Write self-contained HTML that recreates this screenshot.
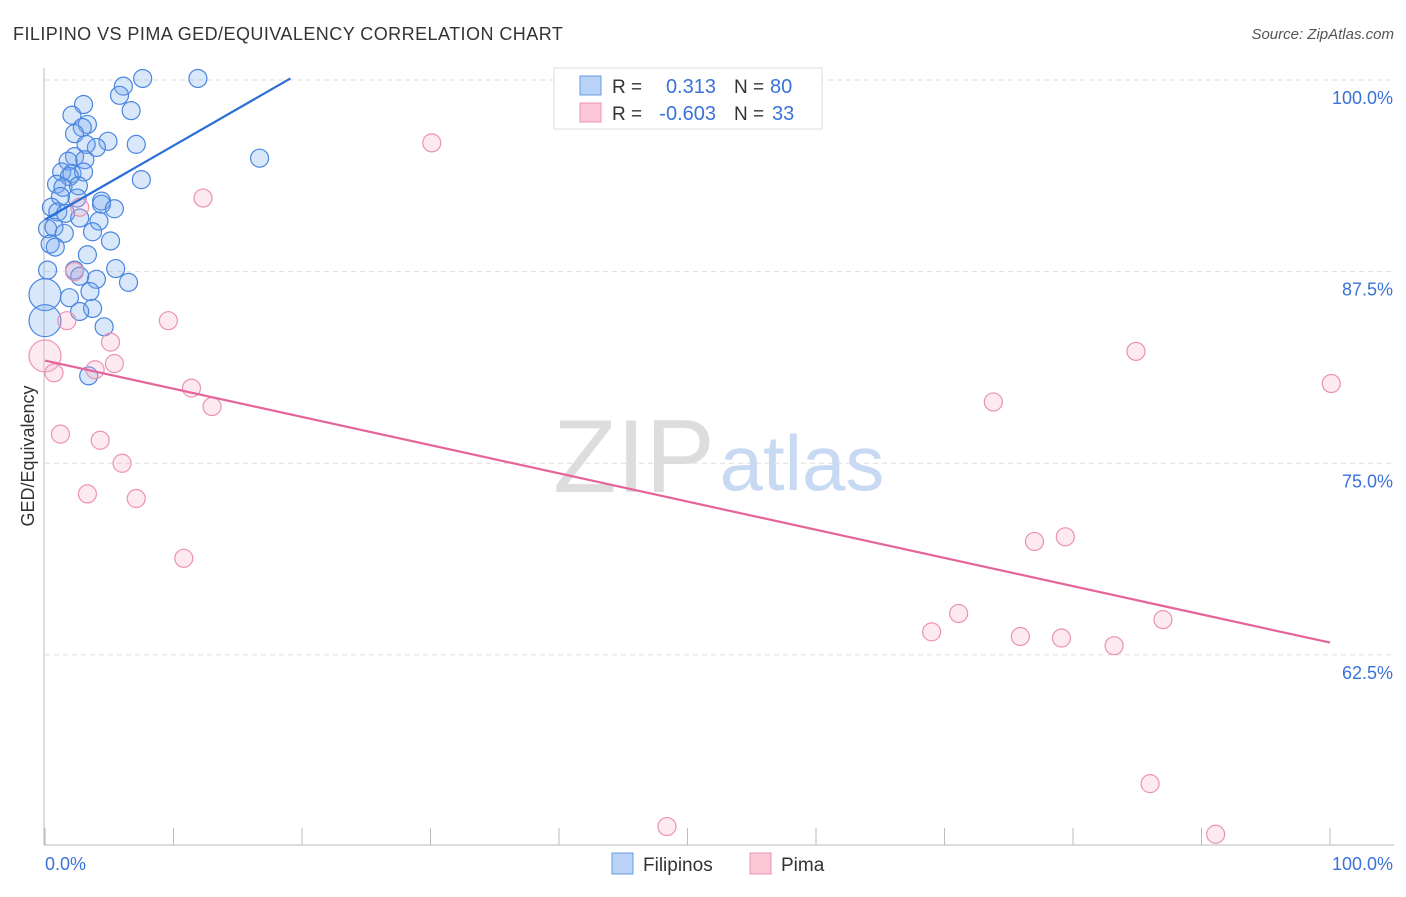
<!DOCTYPE html>
<html><head><meta charset="utf-8"><style>
body{margin:0;background:#fff;font-family:"Liberation Sans",sans-serif;}
svg text{font-family:"Liberation Sans",sans-serif;}
</style></head><body>
<svg width="1406" height="892" xmlns="http://www.w3.org/2000/svg">
<text x="13" y="40" font-size="18" fill="#333" letter-spacing="0.45">FILIPINO VS PIMA GED/EQUIVALENCY CORRELATION CHART</text>
<text x="1394" y="39" font-size="15" fill="#555" font-style="italic" text-anchor="end">Source: ZipAtlas.com</text>
<g>
<text x="634" y="492" font-size="104" fill="#ddd" text-anchor="middle" font-family="Liberation Serif">ZIP</text>
<text x="802" y="490" font-size="78" fill="#c8daf3" text-anchor="middle">atlas</text>
</g>
<g id="grid"></g>
<g id="axes"></g>
<g id="pts"></g>
<g id="lines"></g>
<text transform="translate(34,456) rotate(-90)" font-size="18" fill="#333" text-anchor="middle">GED/Equivalency</text>
<text x="45" y="870" font-size="18" fill="#3a72d8">0.0%</text>
<text x="1393" y="870" font-size="18" fill="#3a72d8" text-anchor="end">100.0%</text>
<g>
<rect x="554" y="68" width="268" height="61" fill="#fff" stroke="#ddd"/>
<rect x="580" y="76" width="21" height="19" fill="#b8d3f5" stroke="#6a9be0"/>
<rect x="580" y="103" width="21" height="19" fill="#fcc8d8" stroke="#ea93b0"/>
<text x="612" y="93" font-size="19" fill="#333">R = </text><text x="716" y="93" font-size="20" fill="#3a72d8" text-anchor="end">0.313</text>
<text x="734" y="93" font-size="19" fill="#333">N = </text><text x="770" y="93" font-size="20" fill="#3a72d8">80</text>
<text x="612" y="120" font-size="19" fill="#333">R = </text><text x="716" y="120" font-size="20" fill="#3a72d8" text-anchor="end">-0.603</text>
<text x="734" y="120" font-size="19" fill="#333">N = </text><text x="772" y="120" font-size="20" fill="#3a72d8">33</text>
</g>
<g>
<rect x="612" y="853" width="21" height="21" fill="#b8d3f5" stroke="#6a9be0"/>
<text x="643" y="871" font-size="19" fill="#333">Filipinos</text>
<rect x="750" y="853" width="21" height="21" fill="#fcc8d8" stroke="#ea93b0"/>
<text x="781" y="871" font-size="19" fill="#333">Pima</text>
</g>
</svg>
<script>
const yTicks=[100,87.5,75,62.5];
const yTickLabels=["100.0%","87.5%","75.0%","62.5%"];
const xTicks=[0,10,20,30,40,50,60,70,80,90,100];
const blueX=[7.6,11.9,6.1,5.8,6.7,3.0,2.1,3.3,2.9,2.3,4.9,7.1,4.0,3.2,2.3,1.8,3.1,16.7,7.5,1.3,2.1,3.0,1.9,0.9,1.4,2.6,1.2,2.5,4.4,4.4,5.4,0.5,1.0,0.2,1.6,2.7,4.2,3.7,0.7,1.5,0.4,5.1,0.8,3.3,0.2,5.5,2.3,4.0,6.5,2.7,0,1.9,3.5,3.7,2.7,4.6,0,3.4];
const blueY=[100.1,100.1,99.6,99.0,98.0,98.4,97.7,97.1,96.9,96.5,96.0,95.8,95.6,95.8,95.0,94.7,94.8,94.9,93.5,94.0,93.9,94.0,93.7,93.2,93.0,93.1,92.4,92.3,92.1,91.9,91.6,91.7,91.4,90.3,91.3,91.0,90.8,90.1,90.4,90.0,89.3,89.5,89.1,88.6,87.6,87.7,87.6,87.0,86.8,87.2,86.0,85.8,86.2,85.1,84.9,83.9,84.3,80.7];
const blueBig=[50,56];
const pinkX=[30.1,12.3,2.7,2.3,1.7,9.6,5.1,0,5.4,0.7,3.9,11.4,13.0,1.2,4.3,6.0,3.3,7.1,10.8,84.9,100.1,73.8,77.0,79.4,71.1,69.0,75.9,79.1,83.2,87.0,86.0,48.4,91.1];
const pinkY=[95.9,92.3,91.7,87.5,84.3,84.3,82.9,82.0,81.5,80.9,81.1,79.9,78.7,76.9,76.5,75.0,73.0,72.7,68.8,82.3,80.2,79.0,69.9,70.2,65.2,64.0,63.7,63.6,63.1,64.8,54.1,51.3,50.8];
const pinkBig=[7];
const blueTrend=[90.9,100.1], blueTrendX=[0,19.1];
const pinkTrend=[81.7,63.3], pinkTrendX=[0,100];
const NS="http://www.w3.org/2000/svg";
const xs=v=>45+v*12.85;
const ys=v=>80+(100-v)*15.33;
function mk(t,a,p){const e=document.createElementNS(NS,t);for(const k in a)e.setAttribute(k,a[k]);p.appendChild(e);return e;}
const grid=document.getElementById('grid');
yTicks.forEach((t,i)=>{
 const l=mk('line',{x1:45,x2:1394,y1:ys(t),y2:ys(t),stroke:'#ddd','stroke-dasharray':'5,4'},grid);
 
 
 const tx=mk('text',{x:1393,y:ys(t)+24,'font-size':18,fill:'#3a72d8','text-anchor':'end'},grid);
 tx.textContent=yTickLabels[i];
 
 
});
const axes=document.getElementById('axes');
mk('line',{x1:44,x2:44,y1:68,y2:845,stroke:'#bbb'},axes);
mk('line',{x1:44,x2:1394,y1:845,y2:845,stroke:'#bbb'},axes);
xTicks.forEach(t=>{
 const l=mk('line',{x1:xs(t),x2:xs(t),y1:828,y2:845,stroke:'#bbb'},axes);
 
 
});
const pts=document.getElementById('pts');
blueX.forEach((x,i)=>{
 const c=mk('circle',{cx:xs(x),cy:ys(blueY[i]),r:blueBig.includes(i)?16:9,fill:'rgba(120,168,238,0.28)',stroke:'#4a86e0','stroke-width':1.2},pts);
 
 
});
pinkX.forEach((x,i)=>{
 const c=mk('circle',{cx:xs(x),cy:ys(pinkY[i]),r:pinkBig.includes(i)?16:9,fill:'rgba(248,170,198,0.25)',stroke:'#eb92b2','stroke-width':1.2},pts);
 
 
});
const lines=document.getElementById('lines');
const bl=mk('line',{x1:xs(blueTrendX[0]),y1:ys(blueTrend[0]),x2:xs(blueTrendX[1]),y2:ys(blueTrend[1]),stroke:'#2a6fd6','stroke-width':2.2},lines);


const pl=mk('line',{x1:xs(pinkTrendX[0]),y1:ys(pinkTrend[0]),x2:xs(pinkTrendX[1]),y2:ys(pinkTrend[1]),stroke:'#e5649a','stroke-width':2.2},lines);


</script>
</body></html>
